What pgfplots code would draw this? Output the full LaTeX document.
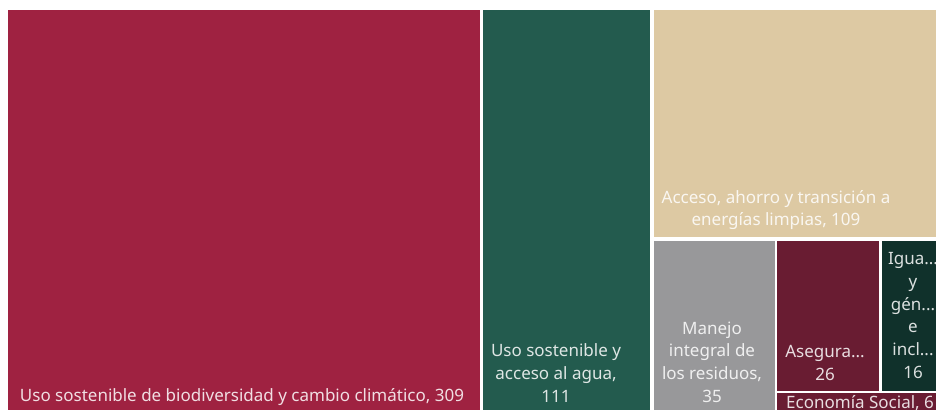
\documentclass[border=0pt]{standalone}
\usepackage{fontspec}
\setmainfont{Noto Sans}
\usepackage{pgfplots}
\pgfplotsset{compat=1.18}

\definecolor{cRed}{HTML}{9F2241}
\definecolor{cGreen}{HTML}{235B4E}
\definecolor{cTan}{HTML}{DDC9A3}
\definecolor{cGray}{HTML}{98989A}
\definecolor{cWine}{HTML}{691C32}
\definecolor{cDark}{HTML}{10312B}

\newcommand{\lbl}{\fontsize{17}{22.7}\selectfont}

\begin{document}
\begin{tikzpicture}
\begin{axis}[
    scale only axis,
    width=936pt, height=410pt,
    xmin=0, xmax=936, ymin=0, ymax=410,
    y dir=reverse,
    hide axis,
    clip=true,
]
    % treemap tiles, pixel units (x0,y0)-(x1,y1)
    \addplot[fill=cRed, draw=none] coordinates {(8,10) (480,10) (480,410) (8,410)} -- cycle;
    \addplot[fill=cGreen, draw=none] coordinates {(483,10) (650,10) (650,410) (483,410)} -- cycle;
    \addplot[fill=cTan, draw=none] coordinates {(654,10) (936,10) (936,237) (654,237)} -- cycle;
    \addplot[fill=cGray, draw=none] coordinates {(654,241) (775,241) (775,410) (654,410)} -- cycle;
    \addplot[fill=cWine, draw=none] coordinates {(777,241) (879,241) (879,391) (777,391)} -- cycle;
    \addplot[fill=cDark, draw=none] coordinates {(882,241) (936,241) (936,391) (882,391)} -- cycle;
    \addplot[fill=cWine, draw=none] coordinates {(777,393) (936,393) (936,410) (777,410)} -- cycle;

    \begin{scope}[every node/.style={align=center, inner sep=0pt, text=white, text opacity=0.85, font=\lbl}]
    \node at (axis cs:242,397) {Uso sostenible de biodiversidad y cambio climático, 309};
    \node at (axis cs:556,373) {Uso sostenible y\\acceso al agua,\\111};
    \node at (axis cs:776,210) {Acceso, ahorro y transición a\\energías limpias, 109};
    \node at (axis cs:712,362) {Manejo\\integral de\\los residuos,\\35};
    \node at (axis cs:825,363) {Asegura...\\26};
    \node at (axis cs:913,315.5) {Igua...\\y\\gén...\\e\\incl...\\16};
    \node[anchor=west] at (axis cs:786,403) {Economía Social, 6};
    \end{scope}
\end{axis}
\pgfresetboundingbox
\useasboundingbox (current axis.south west) rectangle (current axis.north east);
\end{tikzpicture}
\end{document}
